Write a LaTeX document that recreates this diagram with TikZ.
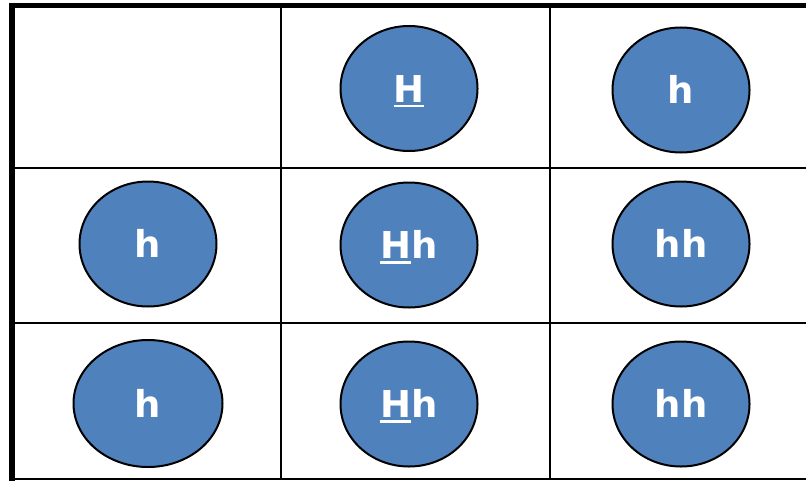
\documentclass[tikz,border=0pt]{standalone}
\usepackage{fontspec}
\setmainfont{DejaVu Sans}
\usetikzlibrary{shapes.geometric}
\definecolor{cellblue}{HTML}{4F81BD}
\newcommand\ulH[1]{\setbox0\hbox{#1}\rlap{\rule[-2.75pt]{\wd0}{1.35pt}}\box0}
\begin{document}
\begin{tikzpicture}[x=0.5pt,y=-0.5pt,
 allele/.style={ellipse,draw=black,line width=1pt,fill=cellblue,text=white,
   font=\bfseries\fontsize{18.5}{20}\selectfont,minimum width=68.5pt,
   minimum height=62.5pt,inner sep=0pt,text height=13.5pt,text depth=0pt},
 gridline/.style={line width=1pt,black}]
\useasboundingbox (0,0) rectangle (806,481);
% grid
\draw[gridline] (12,167.5) -- (806,167.5);
\draw[gridline] (12,323) -- (806,323);
\draw[gridline] (9,479) -- (806,479);
\draw[gridline] (281,5.5) -- (281,479);
\draw[gridline] (550,5.5) -- (550,479);
\draw[line width=2.5pt] (9,5.5) -- (806,5.5);
\draw[line width=3pt] (12,3) -- (12,481);
% alleles
\node[allele] (r1c2) at (409,88.5) {\ulH{H}};
\node[allele] (r1c3) at (681,90) {h};
\node[allele] (r2c1) at (148,244) {h};
\node[allele] (r2c2) at (409,245) {\ulH{H}h};
\node[allele] (r2c3) at (681,244) {hh};
\node[allele,minimum width=74.5pt,minimum height=63.5pt] (r3c1) at (148,403.5) {h};
\node[allele] (r3c2) at (409,404) {\ulH{H}h};
\node[allele] (r3c3) at (681,404) {hh};
\end{tikzpicture}
\end{document}
